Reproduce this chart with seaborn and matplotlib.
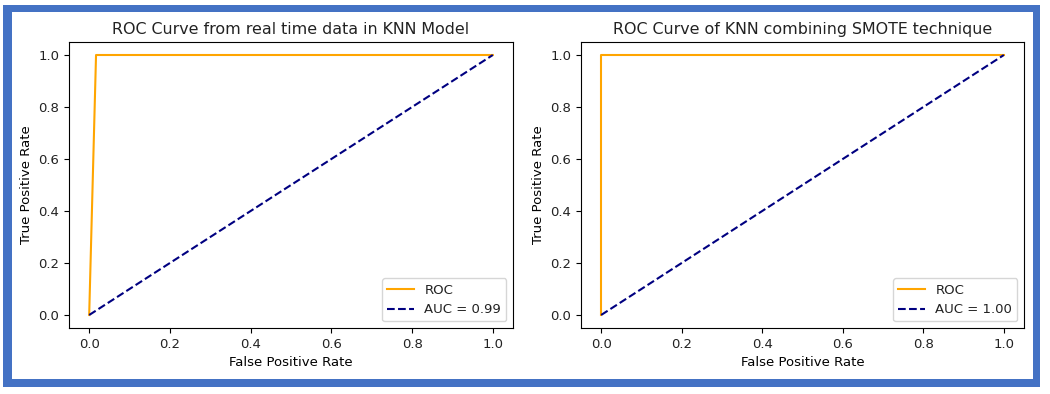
import matplotlib
matplotlib.use("Agg")
import matplotlib.pyplot as plt
from matplotlib.patches import Rectangle
import seaborn as sns
import numpy as np

# Data
fpr_knn = [0.0, 0.017, 1.0]
tpr_knn = [0.0, 1.0, 1.0]
fpr_smote = [0.0, 0.0, 1.0]
tpr_smote = [0.0, 1.0, 1.0]
diag = [0.0, 1.0]
titles = ["ROC Curve from real time data in KNN Model",
          "ROC Curve of KNN combining SMOTE technique"]
auc_labels = ["AUC = 0.99", "AUC = 1.00"]
ticks = [0.0, 0.2, 0.4, 0.6, 0.8, 1.0]

plt.rcParams['font.family'] = ['DejaVu Sans']
plt.rcParams['font.size'] = 9.5
plt.rcParams['text.color'] = '#222222'
plt.rcParams['xtick.labelcolor'] = '#222222'
plt.rcParams['ytick.labelcolor'] = '#222222'

W, H = 1050, 394
fig = plt.figure(figsize=(W / 100, H / 100), dpi=100)

def px_axes(l, t, r, b):
    return fig.add_axes([l / W, 1 - b / H, (r - l) / W, (b - t) / H])

ax1 = px_axes(69, 42, 513, 328)
ax2 = px_axes(581, 42, 1024, 328)

for ax, fpr, tpr, title, auc in [(ax1, fpr_knn, tpr_knn, titles[0], auc_labels[0]),
                                  (ax2, fpr_smote, tpr_smote, titles[1], auc_labels[1])]:
    sns.lineplot(x=fpr, y=tpr, ax=ax, color='orange', label='ROC',
                 estimator=None, sort=False, linewidth=1.5)
    sns.lineplot(x=diag, y=diag, ax=ax, color='navy', linestyle='--',
                 label=auc, estimator=None, sort=False, linewidth=1.5)
    ax.set_xlim(-0.05, 1.05)
    ax.set_ylim(-0.05, 1.05)
    ax.set_xticks(ticks)
    ax.set_yticks(ticks)
    ax.set_xlabel('False Positive Rate', fontsize=9.5)
    ax.set_ylabel('True Positive Rate', fontsize=9.5)
    ax.set_title(title, fontsize=11.4)
    ax.tick_params(labelsize=9.5)
    ax.legend(loc='lower right', fontsize=9.5)

# Blue frame around the figure (screenshot border)
blue = '#4472C4'
def px_rect(l, t, r, b):
    fig.patches.append(Rectangle((l / W, 1 - b / H), (r - l) / W, (b - t) / H,
                                 transform=fig.transFigure, facecolor=blue,
                                 edgecolor='none', zorder=10))
px_rect(3, 5, 1040, 12)
px_rect(3, 379, 1040, 387)
px_rect(3, 5, 12, 387)
px_rect(1033, 5, 1040, 387)

fig.savefig('out.png', dpi=100)
